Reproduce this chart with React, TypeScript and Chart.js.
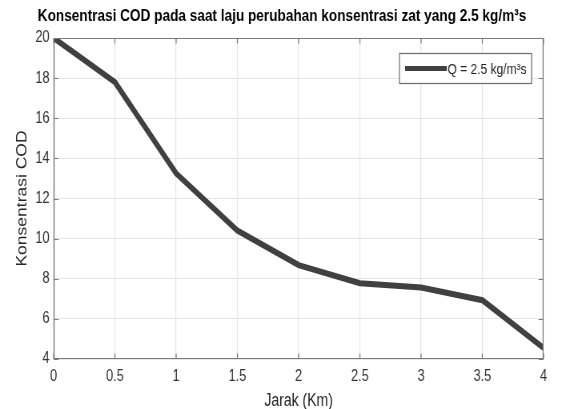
import React, { useEffect, useRef } from "react";
import { Chart, registerables } from "chart.js";

Chart.register(...registerables);

const distanceKm = [0, 0.5, 1, 1.5, 2, 2.5, 3, 3.5, 4];
const codValues = [20, 17.8, 13.25, 10.4, 8.68, 7.78, 7.56, 6.93, 4.55];
const seriesLabel = "Q = 2.5 kg/m³s";
const titleText = "Konsentrasi COD pada saat laju perubahan konsentrasi zat yang 2.5 kg/m³s";
const xAxisTitle = "Jarak (Km)";
const yAxisTitle = "Konsentrasi COD";

const FONT = "'Liberation Sans', Arial, sans-serif";
const LINE_COLOR = "#404040";
const AXIS_COLOR = "#7a7a7a";

// canvas is drawn wider and squeezed horizontally by CSS (condensed look of the reference)
const CSS_W = 562;
const CSS_H = 409;
const INNER_W = 702;
const SX = CSS_W / INNER_W;

const boxPlugin = {
  id: "matlabBox",
  afterDatasetsDraw(chart: any) {
    const { ctx, chartArea: a, scales } = chart;
    ctx.save();
    ctx.strokeStyle = AXIS_COLOR;
    const L = a.left;
    const R = a.right;
    const T = Math.round(a.top) + 0.5;
    const B = Math.round(a.bottom) - 0.5;
    // horizontal borders
    ctx.lineWidth = 1;
    ctx.beginPath();
    ctx.moveTo(L, T);
    ctx.lineTo(R, T);
    ctx.moveTo(L, B);
    ctx.lineTo(R, B);
    ctx.stroke();
    // vertical borders (widened to survive squeeze)
    ctx.lineWidth = 1.25;
    ctx.beginPath();
    ctx.moveTo(L + 0.6, T);
    ctx.lineTo(L + 0.6, B);
    ctx.moveTo(R - 0.6, T);
    ctx.lineTo(R - 0.6, B);
    ctx.stroke();
    const tl = 5;
    ctx.beginPath();
    scales.x.ticks.forEach((t: any) => {
      const px = scales.x.getPixelForValue(t.value);
      ctx.moveTo(px, B);
      ctx.lineTo(px, B - tl);
      ctx.moveTo(px, T);
      ctx.lineTo(px, T + tl);
    });
    ctx.stroke();
    ctx.lineWidth = 1;
    ctx.beginPath();
    scales.y.ticks.forEach((t: any) => {
      const py = Math.round(scales.y.getPixelForValue(t.value)) + 0.5;
      ctx.moveTo(L, py);
      ctx.lineTo(L + tl / SX, py);
      ctx.moveTo(R, py);
      ctx.lineTo(R - tl / SX, py);
    });
    ctx.stroke();

    // legend inside the plot, top-right
    const ds = chart.data.datasets[0];
    const bw = 165;
    const bh = 30;
    const bx = a.right - 15 - bw;
    const by = Math.round(a.top + 15) + 0.5;
    ctx.fillStyle = "#ffffff";
    ctx.fillRect(bx, by, bw, bh);
    ctx.strokeStyle = "#6e6e6e";
    ctx.lineWidth = 1.25;
    ctx.strokeRect(bx, by, bw, bh);
    ctx.strokeStyle = ds.borderColor;
    ctx.lineWidth = 5;
    ctx.beginPath();
    ctx.moveTo(bx + 7, by + bh / 2);
    ctx.lineTo(bx + 59, by + bh / 2);
    ctx.stroke();
    ctx.fillStyle = "#262626";
    ctx.font = `15px ${FONT}`;
    ctx.textBaseline = "middle";
    ctx.textAlign = "left";
    ctx.fillText(ds.label, bx + 60, by + bh / 2 + 1);

    // chart title
    ctx.fillStyle = "#000000";
    ctx.font = `bold 17px ${FONT}`;
    ctx.textAlign = "center";
    ctx.textBaseline = "middle";
    ctx.fillText(titleText, 282 / SX, 16);
    ctx.restore();
  },
};

export default function App() {
  const ref = useRef<HTMLCanvasElement | null>(null);

  useEffect(() => {
    document.body.style.margin = "0";
    const canvas = ref.current;
    if (!canvas) return;
    const chart = new Chart(canvas, {
      type: "line",
      data: {
        datasets: [
          {
            label: seriesLabel,
            data: distanceKm.map((x, i) => ({ x, y: codValues[i] })),
            borderColor: LINE_COLOR,
            backgroundColor: LINE_COLOR,
            borderWidth: 6,
            pointRadius: 0,
            tension: 0,
            borderJoinStyle: "miter",
          },
        ],
      },
      options: {
        animation: false,
        responsive: false,
        devicePixelRatio: 1,
        layout: { padding: { left: 0, right: 23, top: 38, bottom: 0 } },
        plugins: {
          legend: { display: false },
          tooltip: { enabled: false },
          title: { display: false },
        },
        scales: {
          x: {
            type: "linear",
            min: 0,
            max: 4,
            afterFit: (s: any) => {
              s.height = 50;
            },
            ticks: {
              stepSize: 0.5,
              color: "#333333",
              font: { family: FONT, size: 16 },
              padding: 8,
              maxRotation: 0,
              callback: (v: any) => String(Number(v)),
            },
            grid: { color: "#e6e6e6", lineWidth: 1.25, drawTicks: false },
            border: { display: false },
            title: {
              display: true,
              text: xAxisTitle,
              color: "#262626",
              font: { family: FONT, size: 17.5, lineHeight: 1 },
              padding: { top: 0, bottom: -1 },
            },
          },
          y: {
            type: "linear",
            min: 4,
            max: 20,
            afterFit: (s: any) => {
              s.width = 67;
            },
            ticks: {
              stepSize: 2,
              color: "#333333",
              font: { family: FONT, size: 16 },
              padding: 5,
              callback: (v: any) => String(Number(v)),
            },
            grid: { color: "#e6e6e6", drawTicks: false },
            border: { display: false },
            title: {
              display: true,
              text: yAxisTitle,
              color: "#262626",
              font: { family: FONT, size: 17.5, lineHeight: 1.2 },
              padding: { top: 17.5, bottom: 0 },
            },
          },
        },
      },
      plugins: [boxPlugin],
    });
    return () => chart.destroy();
  }, []);

  return (
    <div style={{ width: CSS_W, height: CSS_H, background: "#ffffff" }}>
      <canvas
        ref={ref}
        width={INNER_W}
        height={CSS_H}
        style={{ display: "block", width: CSS_W, height: CSS_H }}
      />
    </div>
  );
}
